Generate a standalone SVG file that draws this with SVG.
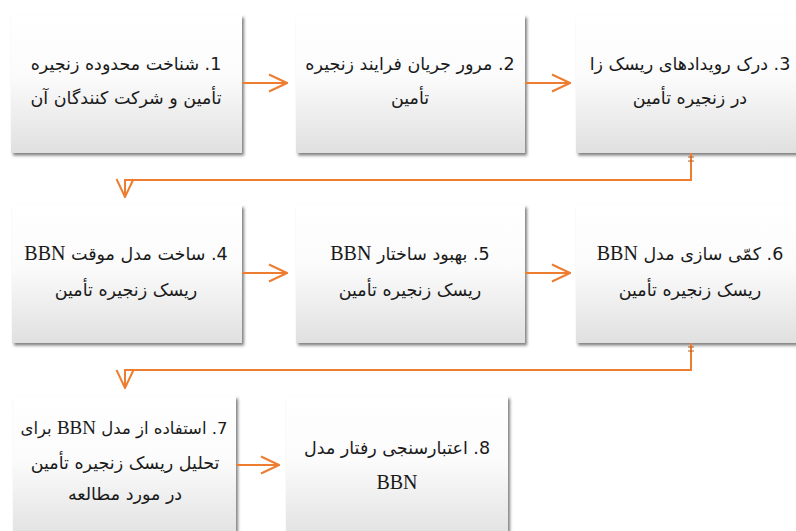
<svg xmlns="http://www.w3.org/2000/svg" width="796" height="531" viewBox="0 0 796 531">
<style>
.box{fill:url(#g);filter:url(#sh)}
.t{font-family:"DejaVu Sans","Liberation Sans",sans-serif;font-size:17.5px;fill:#1a1a1a;text-anchor:middle;direction:rtl;unicode-bidi:embed}
.b{font-family:"Liberation Serif",serif;font-size:20px}
.c{fill:none;stroke:#ED7D31;stroke-width:2}
</style>
<defs>
<linearGradient id="g" x1="0" y1="0" x2="0" y2="1">
<stop offset="0" stop-color="#ffffff"/>
<stop offset="0.45" stop-color="#fbfbfb"/>
<stop offset="1" stop-color="#e0e0e0"/>
</linearGradient>
<filter id="sh" x="-10%" y="-10%" width="125%" height="125%">
<feDropShadow dx="2" dy="2.5" stdDeviation="1.8" flood-color="#000" flood-opacity="0.5"/>
</filter>
<marker id="ah" viewBox="0 0 20 20" refX="19" refY="10" markerWidth="20" markerHeight="20" markerUnits="userSpaceOnUse" orient="auto">
<path d="M1,1.5 L19,10 L1,18.5" fill="none" stroke="#ED7D31" stroke-width="2"/>
</marker>
</defs>
<rect width="796" height="531" fill="#ffffff"/>
<g id="n1"><rect class="box" x="11" y="15" width="231" height="138"/>
<text class="t" x="126" y="70">1. شناخت محدوده زنجیره</text>
<text class="t" x="126" y="104">تأمین و شرکت کنندگان آن</text></g>
<g id="n2"><rect class="box" x="296" y="15" width="229" height="138"/>
<text class="t" x="410" y="70">2. مرور جریان فرایند زنجیره</text>
<text class="t" x="410" y="104">تأمین</text></g>
<g id="n3"><rect class="box" x="576" y="15" width="232" height="138"/>
<text class="t" x="690" y="70">3. درک رویدادهای ریسک زا</text>
<text class="t" x="690" y="104">در زنجیره تأمین</text></g>
<g id="n4"><rect class="box" x="12" y="205" width="230" height="138"/>
<text class="t" x="126" y="260">4. ساخت مدل موقت  <tspan class="b">BBN</tspan></text>
<text class="t" x="126" y="296">ریسک زنجیره تأمین</text></g>
<g id="n5"><rect class="box" x="296" y="205" width="229" height="138"/>
<text class="t" x="410" y="260">5. بهبود ساختار  <tspan class="b">BBN</tspan></text>
<text class="t" x="410" y="296">ریسک زنجیره تأمین</text></g>
<g id="n6"><rect class="box" x="576" y="205" width="232" height="138"/>
<text class="t" x="690" y="260">6. کمّی سازی مدل <tspan class="b">BBN</tspan></text>
<text class="t" x="690" y="296">ریسک زنجیره تأمین</text></g>
<g id="n7"><rect class="box" x="13" y="396" width="223" height="145"/>
<text class="t" x="124" y="434" style="font-size:16.5px">7. استفاده از مدل <tspan class="b" style="font-size:19px">BBN</tspan> برای</text>
<text class="t" x="125" y="469">تحلیل ریسک زنجیره تأمین</text>
<text class="t" x="125" y="500">در مورد مطالعه</text></g>
<g id="n8"><rect class="box" x="286" y="396" width="222" height="145"/>
<text class="t" x="397" y="454">8. اعتبارسنجی رفتار مدل</text>
<text class="t" x="397" y="489"><tspan class="b">BBN</tspan></text></g>
<g id="connectors">
<path class="c" d="M242,83 H287" marker-end="url(#ah)"/>
<path class="c" d="M525,83 H570" marker-end="url(#ah)"/>
<path class="c" d="M691,153 V180 H125 V197" marker-end="url(#ah)"/>
<path class="c" d="M242,273 H287" marker-end="url(#ah)"/>
<path class="c" d="M525,273 H570" marker-end="url(#ah)"/>
<path class="c" d="M691,343 V370 H125 V388" marker-end="url(#ah)"/>
<path class="c" d="M236,465 H279" marker-end="url(#ah)"/>
<path d="M688,157 H694 M688,161 H694 M688,347 H694 M688,351 H694" stroke="#B85A1E" stroke-width="1"/>
</g>
</svg>
